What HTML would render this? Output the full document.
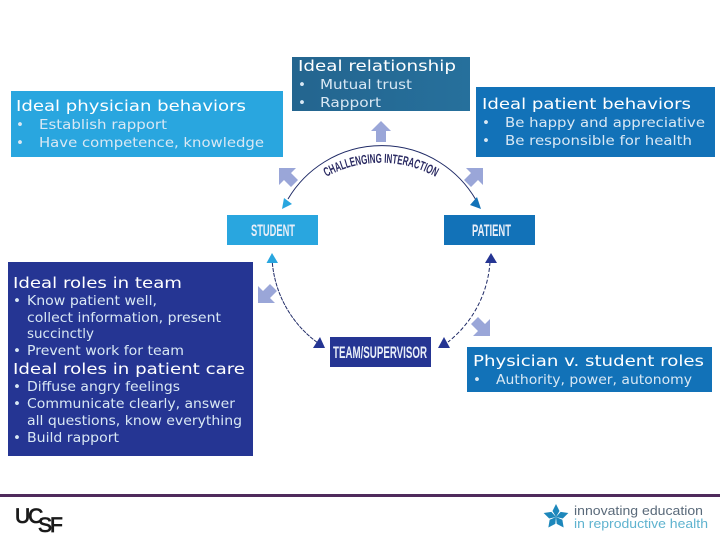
<!DOCTYPE html>
<html>
<head>
<meta charset="utf-8">
<style>
html,body{margin:0;padding:0;background:#fff;width:720px;height:540px;overflow:hidden}
svg{display:block}
text{font-family:"DejaVu Sans","Liberation Sans",sans-serif}
.t{font-size:15px;fill:#fff}
.b{font-size:13.5px;fill:#d9e8f4}
.l{font-family:"Liberation Sans",sans-serif;font-weight:bold;font-size:16.5px;fill:#e8eef8}
.ar{fill:#9aa6d8}
</style>
</head>
<body>
<svg width="720" height="540" viewBox="0 0 720 540" xmlns="http://www.w3.org/2000/svg">
<defs>
<linearGradient id="g" x1="0" x2="1" y1="0" y2="0"><stop offset="0" stop-color="#24658f"/><stop offset="1" stop-color="#26709c"/></linearGradient>
<path id="tp" d="M295 203 A112 112 0 0 1 467 203"/>
<polygon id="da" points="279,168 296,168 291,173 298,180 291,187 284,180 279,185"/>
</defs>
<rect x="11" y="91" width="272" height="66" fill="#29a6df"/>
<text class="t" x="16" y="111" textLength="230" lengthAdjust="spacingAndGlyphs">Ideal physician behaviors</text>
<text class="b" x="16" y="129">•</text><text class="b" x="39" y="129" textLength="128" lengthAdjust="spacingAndGlyphs">Establish rapport</text>
<text class="b" x="16" y="147">•</text><text class="b" x="39" y="147" textLength="225" lengthAdjust="spacingAndGlyphs">Have competence, knowledge</text>

<rect x="292" y="57" width="178" height="54" fill="url(#g)"/>
<text class="t" x="298" y="71" textLength="158" lengthAdjust="spacingAndGlyphs">Ideal relationship</text>
<text class="b" x="298" y="89">•</text><text class="b" x="320" y="89" textLength="92" lengthAdjust="spacingAndGlyphs">Mutual trust</text>
<text class="b" x="298" y="107">•</text><text class="b" x="320" y="107" textLength="61" lengthAdjust="spacingAndGlyphs">Rapport</text>

<rect x="476" y="87" width="239" height="70" fill="#1272b8"/>
<text class="t" x="482" y="109" textLength="209" lengthAdjust="spacingAndGlyphs">Ideal patient behaviors</text>
<text class="b" x="482" y="127">•</text><text class="b" x="505" y="127" textLength="200" lengthAdjust="spacingAndGlyphs">Be happy and appreciative</text>
<text class="b" x="482" y="145">•</text><text class="b" x="505" y="145" textLength="187" lengthAdjust="spacingAndGlyphs">Be responsible for health</text>

<rect x="8" y="262" width="245" height="194" fill="#253593"/>
<text class="t" x="13" y="288" textLength="169" lengthAdjust="spacingAndGlyphs">Ideal roles in team</text>
<text class="b" x="13" y="305">•</text><text class="b" x="27" y="305" textLength="130" lengthAdjust="spacingAndGlyphs">Know patient well,</text>
<text class="b" x="27" y="322" textLength="194" lengthAdjust="spacingAndGlyphs">collect information, present</text>
<text class="b" x="27" y="338" textLength="67" lengthAdjust="spacingAndGlyphs">succinctly</text>
<text class="b" x="13" y="355">•</text><text class="b" x="27" y="355" textLength="157" lengthAdjust="spacingAndGlyphs">Prevent work for team</text>
<text class="t" x="13" y="374" textLength="232" lengthAdjust="spacingAndGlyphs">Ideal roles in patient care</text>
<text class="b" x="13" y="391">•</text><text class="b" x="27" y="391" textLength="153" lengthAdjust="spacingAndGlyphs">Diffuse angry feelings</text>
<text class="b" x="13" y="408">•</text><text class="b" x="27" y="408" textLength="208" lengthAdjust="spacingAndGlyphs">Communicate clearly, answer</text>
<text class="b" x="27" y="425" textLength="215" lengthAdjust="spacingAndGlyphs">all questions, know everything</text>
<text class="b" x="13" y="442">•</text><text class="b" x="27" y="442" textLength="92" lengthAdjust="spacingAndGlyphs">Build rapport</text>

<rect x="467" y="347" width="245" height="45" fill="#1272b8"/>
<text class="t" x="473" y="366" textLength="231" lengthAdjust="spacingAndGlyphs">Physician v. student roles</text>
<text class="b" x="473" y="384">•</text><text class="b" x="496" y="384" textLength="196" lengthAdjust="spacingAndGlyphs">Authority, power, autonomy</text>

<rect x="227" y="215" width="91" height="30" fill="#29a6df"/>
<text class="l" x="251" y="236" textLength="44" lengthAdjust="spacingAndGlyphs">STUDENT</text>
<rect x="444" y="215" width="91" height="30" fill="#1272b8"/>
<text class="l" x="472" y="236" textLength="39" lengthAdjust="spacingAndGlyphs">PATIENT</text>
<rect x="330" y="337" width="101" height="30" fill="#253593"/>
<text class="l" x="333" y="358" textLength="94" lengthAdjust="spacingAndGlyphs">TEAM/SUPERVISOR</text>

<path d="M288 199 A109 109 0 0 1 476 200" fill="none" stroke="#1f2a66" stroke-width="1"/>
<path d="M272 258 A111 111 0 0 0 318 343" fill="none" stroke="#1f2a66" stroke-width="1" stroke-dasharray="4 1"/>
<path d="M490 262 A111 111 0 0 1 448 342" fill="none" stroke="#1f2a66" stroke-width="1" stroke-dasharray="4 2"/>
<polygon points="282,209 284,198 292,204" fill="#29a6df"/>
<polygon points="481,209 470,205 477,197" fill="#1272b8"/>
<polygon points="272,253 266.500,263 278,263" fill="#29a6df"/>
<polygon points="491,253 485,263 497,263" fill="#253593"/>
<polygon points="325,348 313,348 320,337" fill="#253593"/>
<polygon points="444,337 438,348 450,348" fill="#253593"/>

<text style="font-family:'Liberation Sans',sans-serif;font-weight:bold;font-size:13px" fill="#2a2a62" text-anchor="middle"><textPath href="#tp" startOffset="50%" textLength="114" lengthAdjust="spacingAndGlyphs">CHALLENGING INTERACTION</textPath></text>

<polygon class="ar" points="381,121 391,131 386,131 386,142 376,142 376,131 371,131"/>
<use href="#da" class="ar"/>
<use href="#da" class="ar" transform="matrix(-1 0 0 1 762 0)"/>
<use href="#da" class="ar" transform="matrix(1 0 0 -1 -21 471)"/>
<use href="#da" class="ar" transform="matrix(-1 0 0 -1 769 504)"/>

<rect x="0" y="494" width="720" height="3" fill="#4f2a5c"/>
<text x="15" y="523" style="font-family:'Liberation Sans',sans-serif;font-size:21px;letter-spacing:-2px" fill="#1a1a1a" stroke="#1a1a1a" stroke-width=".8">UC</text>
<text x="38" y="532" style="font-family:'Liberation Sans',sans-serif;font-size:21px;letter-spacing:-2px" fill="#1a1a1a" stroke="#1a1a1a" stroke-width=".8">SF</text>
<g fill="#1d87bb" transform="translate(556,517)">
<path d="M0 -13 L3.500 -6 L0 0 L-3.500 -6 Z"/>
<path d="M0 -13 L3.500 -6 L0 0 L-3.500 -6 Z" transform="rotate(72)"/>
<path d="M0 -13 L3.500 -6 L0 0 L-3.500 -6 Z" transform="rotate(144)"/>
<path d="M0 -13 L3.500 -6 L0 0 L-3.500 -6 Z" transform="rotate(216)"/>
<path d="M0 -13 L3.500 -6 L0 0 L-3.500 -6 Z" transform="rotate(288)"/>
</g>
<text x="574" y="515" style="font-family:'Liberation Sans',sans-serif;font-size:13px" fill="#5a6a7a" textLength="129" lengthAdjust="spacingAndGlyphs">innovating education</text>
<text x="574" y="528" style="font-family:'Liberation Sans',sans-serif;font-size:13px" fill="#5fb3cf" textLength="134" lengthAdjust="spacingAndGlyphs">in reproductive health</text>
</svg>
</body>
</html>
